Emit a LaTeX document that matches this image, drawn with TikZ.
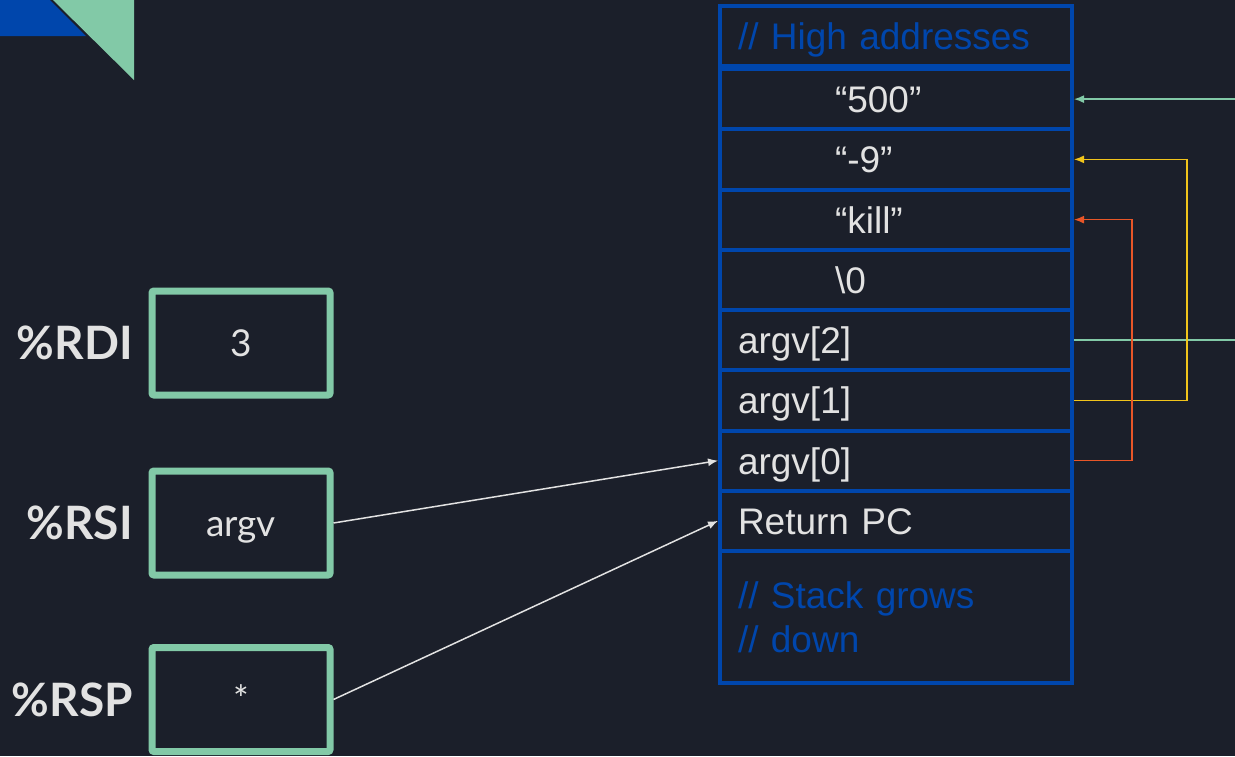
\documentclass[tikz,border=0pt]{standalone}
\usepackage{fontspec}
\setmainfont{Liberation Sans}
\newfontfamily\lato{Lato}
\usetikzlibrary{arrows.meta}
\definecolor{bg}{RGB}{27,31,42}
\definecolor{mint}{RGB}{130,201,167}
\definecolor{stackblue}{RGB}{0,70,172}
\definecolor{txt}{RGB}{226,226,226}
\definecolor{ylw}{RGB}{241,196,27}
\definecolor{org}{RGB}{232,86,40}

\begin{document}
\begin{tikzpicture}
  [x=1pt,y=-1pt,
   reg/.style={draw=mint,line width=7pt,rounded corners=2pt,minimum width=178pt,minimum height=104pt,
     text height=26pt,text depth=0pt,text=txt,font=\lato\fontsize{37}{42}\selectfont},
   regname/.style={anchor=east,inner sep=0pt,text=txt,font=\lato\bfseries\fontsize{46}{50}\selectfont},
   row/.style={draw=stackblue,line width=4pt,text width=316pt,inner xsep=18pt,inner ysep=0pt,
     text height=27pt,text depth=0pt,align=left,minimum height=60.25pt,text=txt,
     font=\fontsize{37}{44}\selectfont},
   ptr/.style={-{Latex[length=10pt,width=8pt]},line width=1.5pt}]
  \fill[bg] (0,0) rectangle (1235,756);
  \useasboundingbox (0,0) rectangle (1235,756);
  \fill[stackblue] (0,0) -- (50,0) -- (86,36) -- (0,36) -- cycle;
  \fill[mint] (53,0) -- (134,0) -- (134,80) -- cycle;

  \node[reg] (rdi) at (241,343)   {3};
  \node[reg] (rsi) at (241,523)   {argv};
  \node[reg] (rsp) at (241,699.5) {*};
  \node[regname] (rdiname) at (133,343)   {\%RDI};
  \node[regname] (rsiname) at (133,523)   {\%RSI};
  \node[regname] (rspname) at (133,699.5) {\%RSP};

  \node[row,text=stackblue,minimum height=60pt] (high) at (896,36) {// High addresses};
  \node[row] (s500) at (896,99.125)  {\hspace*{97pt}“500”};
  \node[row] (s9)   at (896,159.375) {\hspace*{97pt}“-9”};
  \node[row] (kill) at (896,219.625) {\hspace*{97pt}“kill”};
  \node[row] (nul)  at (896,279.875) {\hspace*{97pt}\textbackslash0};
  \node[row] (a2)   at (896,340.125) {argv[2]};
  \node[row] (a1)   at (896,400.375) {argv[1]};
  \node[row] (a0)   at (896,460.625) {argv[0]};
  \node[row] (ret)  at (896,520.875) {Return PC};
  \node[row,text height={},text depth={},text=stackblue,minimum height=132pt] (grow) at (896,617)
    {// Stack grows\\// down};

  \draw[ptr,txt] (rsi.east) -- (a0.west);
  \draw[ptr,txt] (rsp.east) -- (ret.west);
  \foreach \from/\dx/\to/\col in {a2/180/s500/mint,a1/113/s9/ylw,a0/58/kill/org}
    \draw[ptr,\col] (\from.east) -- ++(\dx,0) |- (\to.east);
\end{tikzpicture}
\end{document}
